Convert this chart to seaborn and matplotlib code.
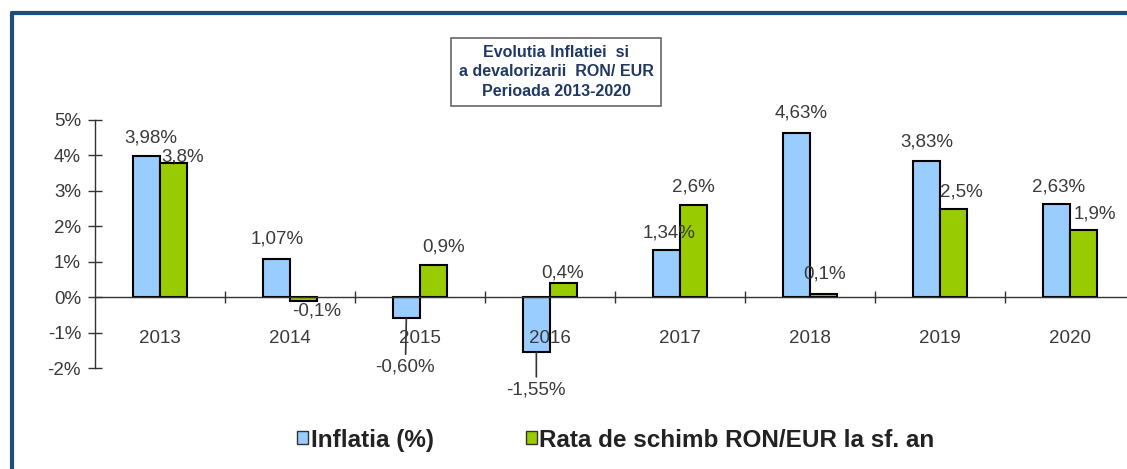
import matplotlib
matplotlib.use("Agg")
import matplotlib.pyplot as plt
from matplotlib.lines import Line2D
from matplotlib.patches import Patch
import seaborn as sns
import pandas as pd

# ---- data ----
years = ["2013", "2014", "2015", "2016", "2017", "2018", "2019", "2020"]
inflatia = [3.98, 1.07, -0.60, -1.55, 1.34, 4.63, 3.83, 2.63]
rata_schimb = [3.8, -0.1, 0.9, 0.4, 2.6, 0.1, 2.5, 1.9]
series_names = ["Inflatia (%)", "Rata de schimb RON/EUR la sf. an"]
y_ticks = [-2, -1, 0, 1, 2, 3, 4, 5]
title_text = "Evolutia Inflatiei  si\na devalorizarii  RON/ EUR\nPerioada 2013-2020"

# ---- label placement (style: offsets in pixels, dx right, dy up) ----
infl_offsets = [(4, 18), (1, 20), (-1, -49), (0, -38), (3, 17), (5, 20), (0, 19), (2, 17)]
rate_offsets = [(9, 6), (13, -10), (10, 18), (-1, 10), (0, 18), (1, 20), (8, 17), (11, 16)]
leader = [False, False, True, True, False, False, False, False]

BLUE = "#99CCFF"
GREEN = "#99CC00"
TXT = "#3a3a3a"

sns.set_theme(style="white")
plt.rcParams["font.family"] = ["Liberation Sans", "DejaVu Sans"]

W, H = 1127, 469
fig = plt.figure(figsize=(W / 100, H / 100), dpi=100)
fig.patch.set_facecolor("white")
ax = fig.add_axes([95 / W, 101 / H, 1040 / W, 248 / H])
ax.set_facecolor("none")

df = pd.DataFrame({
    "An": years * 2,
    "Valoare": inflatia + rata_schimb,
    "Serie": [series_names[0]] * len(years) + [series_names[1]] * len(years),
})
sns.barplot(data=df, x="An", y="Valoare", hue="Serie", hue_order=series_names,
            palette=[BLUE, GREEN], width=0.42, edgecolor="black", linewidth=1.5,
            saturation=1, ax=ax, legend=False)

ax.set_axisbelow(False)
ax.set_xlim(-0.5, 7.5)
ax.set_ylim(-2, 5)
ax.set_xlabel("")
ax.set_ylabel("")

for s in ["top", "right"]:
    ax.spines[s].set_visible(False)
ax.spines["bottom"].set_position(("data", 0))
for s in ["left", "bottom"]:
    ax.spines[s].set_color("#333333")
    ax.spines[s].set_linewidth(1.0)

ax.set_yticks(y_ticks)
ax.set_yticklabels([f"{v}%" for v in y_ticks])
ax.tick_params(axis="y", direction="inout", length=10, width=1, color="#333333",
               labelsize=13.5, labelcolor=TXT, pad=5, left=True)

ax.set_xticks(range(len(years)))
ax.set_xticklabels(years)
ax.tick_params(axis="x", which="major", length=0, pad=24, labelsize=13.5, labelcolor=TXT)
ax.set_xticks([i + 0.5 for i in range(len(years))], minor=True)
ax.tick_params(axis="x", which="minor", direction="inout", length=9, width=1,
               color="#333333", bottom=True)

def fmt(v, d):
    return f"{v:.{d}f}".replace(".", ",") + "%"

for cont, vals, offs, dec in [(ax.containers[0], inflatia, infl_offsets, 2),
                              (ax.containers[1], rata_schimb, rate_offsets, 1)]:
    for i, (bar, v) in enumerate(zip(cont.patches, vals)):
        cx = bar.get_x() + bar.get_width() / 2
        dx, dy = offs[i]
        kw = {}
        if dec == 2 and leader[i]:
            kw["arrowprops"] = dict(arrowstyle="-", color="#333333", lw=1.2,
                                    shrinkA=1, shrinkB=0)
        ax.annotate(fmt(v, dec), xy=(cx, v), xytext=(dx * 0.72, dy * 0.72),
                    textcoords="offset points", ha="center", va="center",
                    fontsize=13.5, color=TXT, **kw)

# title box
fig.text(556 / W, 1 - 72 / H, title_text, ha="center", va="center",
         multialignment="center", fontsize=11.5, fontweight="bold",
         color="#1F3864", linespacing=1.35,
         bbox=dict(boxstyle="square,pad=0.45", fc="white", ec="#666666", lw=1.2))

# legend
handles = [Patch(facecolor=BLUE, edgecolor="#333333", lw=1),
           Patch(facecolor=GREEN, edgecolor="#333333", lw=1)]
fig.legend(handles, series_names, loc="center", bbox_to_anchor=(616 / W, 1 - 440 / H),
           ncol=2, frameon=False, prop=dict(weight="bold", size=17.5),
           handlelength=0.45, handleheight=0.45, handletextpad=0.1,
           columnspacing=3.8, labelcolor="#222222")

# outer frame
fig.add_artist(Line2D([12 / W, 1], [1 - 13 / H, 1 - 13 / H], transform=fig.transFigure,
                      color="#1F4E79", lw=3))
fig.add_artist(Line2D([12 / W, 12 / W], [0, 1 - 13 / H], transform=fig.transFigure,
                      color="#1F4E79", lw=3))

fig.savefig("out.png", dpi=100, facecolor="white")
